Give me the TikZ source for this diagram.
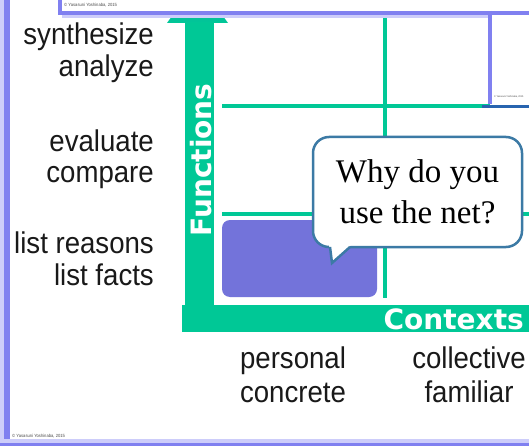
\documentclass[tikz,border=0pt]{standalone}
\usepackage{fontspec}
\setmainfont{Liberation Sans}[FakeStretch=0.92]
\newfontfamily\bubblefont{Liberation Serif}
\newfontfamily\axisfont{DejaVu Sans}
\usetikzlibrary{positioning}
\definecolor{gridgreen}{RGB}{0,200,150}
\definecolor{headteal}{RGB}{25,140,185}
\definecolor{slideblue}{RGB}{128,128,240}
\definecolor{slideedge}{RGB}{40,100,175}
\definecolor{lavender}{RGB}{205,205,250}
\definecolor{cellpurple}{RGB}{115,115,218}
\definecolor{bubbleline}{RGB}{60,122,165}

\tikzset{
  level/.style={font=\fontsize{30}{30}\selectfont, text=black!90, anchor=base east, inner sep=0pt},
  context/.style={font=\fontsize{30}{30}\selectfont, text=black!90, anchor=base, inner sep=0pt},
  axis/.style={font=\axisfont\bfseries\fontsize{28}{28}\selectfont, text=white, inner sep=0pt},
  grid/.style={gridgreen, line width=4.5pt},
  bubble/.style={draw=bubbleline, line width=2.5pt, fill=white, rounded corners=16pt,
    minimum width=209pt, minimum height=110pt, align=center, inner sep=0pt,
    font=\bubblefont\fontsize{33}{41}\selectfont},
  copyr/.style={font=\fontsize{4.5}{4.5}\selectfont, text=black!70, anchor=west, inner sep=0pt},
}

\begin{document}
\begin{tikzpicture}[x=1pt,y=-1pt]
\useasboundingbox (0,0) rectangle (529,446);
\clip (0,0) rectangle (529,446);
\fill[white] (0,0) rectangle (529,446);

% grid of the chart
\draw[grid] (222,106) -- (529,106);
\draw[grid] (222,214) -- (529,214);
\draw[grid] (385,16) -- (385,298);
\fill[cellpurple, rounded corners=8pt] (222,220) rectangle (377,297);

% speech bubble
\node[bubble] (ask) at (417.5,192) {Why do you\\use the net?};
\coordinate (tip) at (332,263);
\fill[white] (329,245) -- (tip) -- (351,245) -- cycle;
\draw[bubbleline, line width=2.5pt] (330,247) -- (tip) -- (350,247);

% axes
\fill[gridgreen] (185,20) rectangle (214,332);
\fill[gridgreen] (182,305) rectangle (529,332);
\shade[top color=headteal, bottom color=gridgreen] (167,23) -- (197.5,-19) -- (228,23) -- cycle;
\node[axis, rotate=90] (functions) at (201,160) {Functions};
\node[axis, anchor=base east] (contexts) at (524,329) {Contexts};

% functions
\node[level] (synth) at (154,45) {synthesize};
\node[level] (analyze) at ([yshift=-32pt]synth.base east) {analyze};
\node[level] (evaluate) at (154,152) {evaluate};
\node[level] (compare) at ([yshift=-31pt]evaluate.base east) {compare};
\node[level] (reasons) at (154,253) {list reasons};
\node[level] (facts) at ([yshift=-32pt]reasons.base east) {list facts};

% contexts
\node[context] (personal) at (293,368) {personal};
\node[context] (concrete) at ([yshift=-34pt]personal.base) {concrete};
\node[context] (collective) at (469,368) {collective};
\node[context] (familiar) at ([yshift=-34pt]collective.base) {familiar};

% slides lying over the chart
\fill[white] (60,-10) rectangle (529,12);
\draw[lavender, line width=3pt] (62,16.5) -- (529,16.5);
\draw[slideblue, line width=4pt] (60,-10) -- (60,13) -- (529,13);
\node[copyr] (copytop) at (64,5) {© Yasasuni Yoshinaba, 2015};
\fill[white] (490,15) rectangle (529,105);
\draw[slideblue, line width=4pt] (490,11) -- (490,104);
\draw[slideedge, line width=3.5pt] (482,106.5) -- (529,106.5);
\node[copyr, font=\fontsize{2.5}{2.5}\selectfont] (copyright) at (494,97) {© Yasasuni Yoshinaba, 2015};

\fill[lavender] (0,0) rectangle (4,446);
\fill[slideblue] (4,0) rectangle (10,446);
\fill[lavender] (0,439) rectangle (529,443);
\fill[slideblue] (0,443) rectangle (529,446);
\node[copyr] (copybottom) at (12,436) {© Yasasuni Yoshinaba, 2015};
\end{tikzpicture}
\end{document}
